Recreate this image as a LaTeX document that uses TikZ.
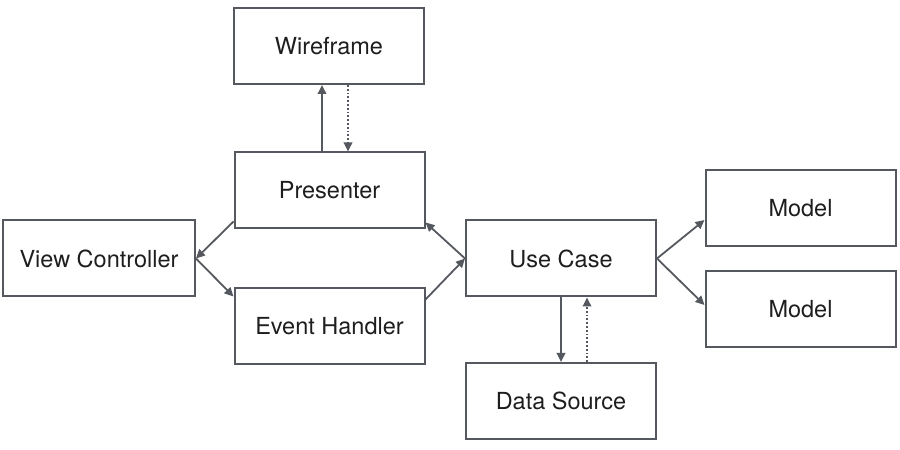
\documentclass[tikz,border=0pt]{standalone}
\usepackage{fontspec}
\setmainfont{TeX Gyre Heros}
\usetikzlibrary{arrows.meta,calc}
\definecolor{linegray}{HTML}{55595F}
\definecolor{txt}{HTML}{1E1E1E}
\begin{document}
\begin{tikzpicture}[x=1pt,y=1pt,
  box/.style={draw=linegray,line width=2pt,minimum width=190pt,minimum height=76pt,inner sep=0pt,
    font=\fontsize{23.5}{28}\selectfont,text=txt,fill=white},
  conn/.style={draw=linegray,line width=1.8pt,-{Triangle[length=9pt,width=8.5pt]}},
  dotconn/.style={conn,dotted,line cap=butt}]
\useasboundingbox (0,0) rectangle (900,450);
\node[box] (wire) at (329,404) {Wireframe};
\node[box] (pres) at (329.5,259.5) {Presenter};
\node[box,minimum width=192pt] (vc) at (99,191.5) {View Controller};
\node[box] (eh) at (329.5,123.5) {Event Handler};
\node[box] (uc) at (561,191.5) {Use Case};
\node[box] (ds) at (561,49) {Data Source};
\node[box] (m1) at (800.5,241.5) {Model};
\node[box] (m2) at (800.5,141) {Model};
% Presenter <-> Wireframe
\draw[conn] ($(pres.north)+(-7.5,0)$) -- ($(wire.south)+(-7,0)$);
\draw[dotconn] ($(wire.south)+(19,0)$) -- ($(pres.north)+(18.5,0)$);
% Presenter -> View Controller -> Event Handler
\draw[conn] ($(pres.south west)+(0,8)$) -- (vc.east);
\draw[conn] (vc.east) -- ($(eh.north west)+(0,-9)$);
% Event Handler -> Use Case -> Presenter
\draw[conn] ($(eh.north east)+(0,-12)$) -- (uc.west);
\draw[conn] (uc.west) -- ($(pres.south east)+(0,7)$);
% Use Case <-> Data Source
\draw[conn] (uc.south) -- (ds.north);
\draw[dotconn] ($(ds.north)+(26,0)$) -- ($(uc.south)+(26,0)$);
% Use Case -> Models
\draw[conn] (uc.east) -- ($(m1.west)+(0,-11.5)$);
\draw[conn] (uc.east) -- ($(m2.west)+(0,4)$);
\end{tikzpicture}
\end{document}
